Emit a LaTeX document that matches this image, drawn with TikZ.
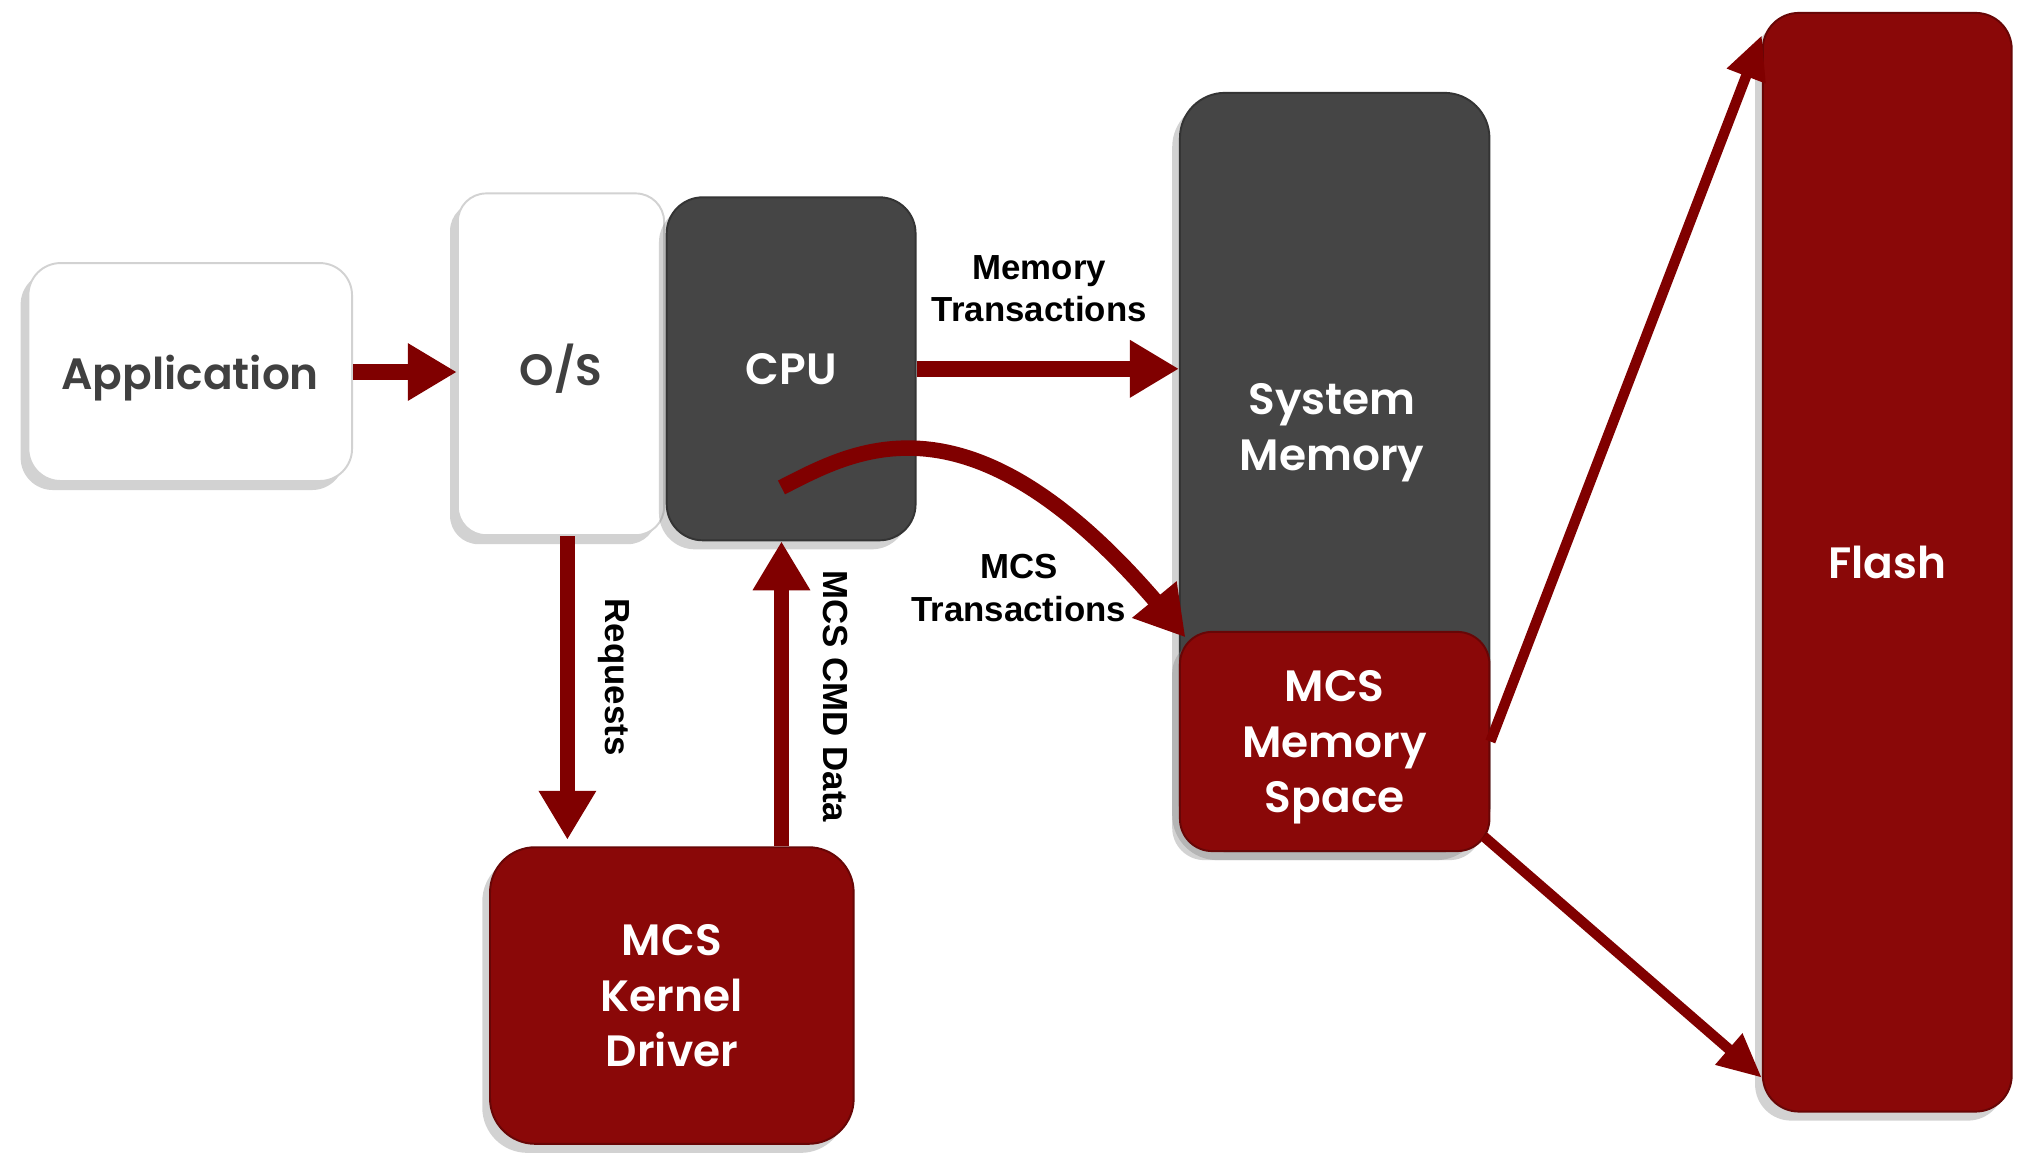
\documentclass[tikz,border=0pt]{standalone}
\usepackage{fontspec}
\setmainfont{Liberation Sans}
\newfontfamily\boxfont{Poppins}[BoldFont={* SemiBold}]
\usetikzlibrary{arrows.meta,shadows,bending,calc}
\definecolor{mcsred}{HTML}{8A0808}
\definecolor{arrowred}{HTML}{800000}
\definecolor{chip}{HTML}{454545}
\definecolor{labelgray}{HTML}{404040}
\begin{document}
\begin{tikzpicture}[x=1pt,y=1pt,
  box/.style={rectangle, inner sep=0pt, align=center, text depth=0pt,
    font=\boxfont\bfseries\fontsize{34}{43}\selectfont,
    drop shadow={shadow xshift=-6pt,shadow yshift=-7pt,opacity=0.35}},
  whitebox/.style={box, fill=white, draw=gray!35, line width=1.5pt, text=labelgray},
  darkbox/.style={box, fill=chip, draw=chip!75!black, line width=1.5pt, text=white},
  redbox/.style={box, fill=mcsred, draw=mcsred!75!black, line width=1.5pt, text=white},
  boxtext/.style={inner sep=0pt, align=center, text=white, text depth=0pt,
    font=\boxfont\bfseries\fontsize{34}{43}\selectfont},
  flow/.style={draw=arrowred, line width=12pt, -{Triangle[length=38pt,width=42pt]}},
  feed/.style={draw=arrowred, line width=8pt, -{Triangle[length=34pt,width=30pt]}},
  tag/.style={inner sep=0pt, align=center, text=black,
    font=\bfseries\fontsize{27}{33}\selectfont}
]
% canvas
\fill[white] (0,0) rectangle (1568,-896);
\useasboundingbox (0,0) rectangle (1568,-896);

% blocks
\node[whitebox, minimum width=251pt, minimum height=169pt, rounded corners=25pt] (app) at (147.5,-288.5) {Application};
\node[whitebox, minimum width=160pt, minimum height=265pt, rounded corners=22pt] (os) at (435,-282.5) {O/S};
\node[darkbox, minimum width=193pt, minimum height=266pt, rounded corners=28pt] (cpu) at (613.5,-286) {CPU};
\node[darkbox, minimum width=240pt, minimum height=588pt, rounded corners=35pt] (sysmem) at (1035,-366) {};
\node[boxtext] (sysmemtext) at (1033,-331) {System\\Memory};
\node[redbox, minimum width=240pt, minimum height=170pt, rounded corners=25pt] (mcsmem) at (1035,-575) {MCS\\Memory\\Space};
\node[redbox, minimum width=193pt, minimum height=852pt, rounded corners=28pt] (flash) at (1463.5,-436) {Flash};
\node[redbox, minimum width=282pt, minimum height=230pt, rounded corners=35pt] (driver) at (521,-772) {MCS\\Kernel\\Driver};

% connector labels
\node[tag] (memtag) at (806,-224) {Memory\\Transactions};
\node[tag] (mcstag) at (790,-456) {MCS\\Transactions};
\node[tag, rotate=-90] (reqtag) at (476,-525) {Requests};
\node[tag, rotate=-90] (cmdtag) at (648,-540) {MCS CMD Data};

% connectors
\coordinate (cmdx) at (606,0);
\coordinate (mcsstart) at (606,-378);
\draw[flow] (app.east) -- (app.east -| os.west);
\draw[flow] (cpu.east) -- (cpu.east -| sysmem.west);
\draw[flow] ([xshift=5pt]os.south) -- ([xshift=5pt,yshift=5pt]os.south |- driver.north);
\draw[flow] (cmdx |- driver.north) -- (cmdx |- cpu.south);
\draw[flow] (mcsstart) .. controls (665,-348) and (760,-292) .. ([xshift=5pt,yshift=-5pt]mcsmem.north west);
\draw[feed] (mcsmem.east) -- ($(flash.north west)+(0,-18)$);
\draw[feed] ([shift={(-5,12)}]mcsmem.south east) -- ($(flash.south west)+(0,27)$);
\end{tikzpicture}
\end{document}
